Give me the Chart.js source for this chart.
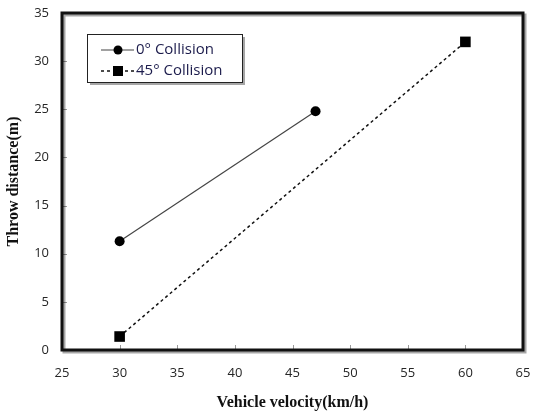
<!DOCTYPE html>
<html>
<head>
<meta charset="utf-8">
<script src="https://cdn.jsdelivr.net/npm/chart.js@4"></script>
<style>
  html, body { margin: 0; padding: 0; background: #fff; }
  #wrap { width: 534px; height: 415px; position: relative; }
</style>
</head>
<body>
<div id="wrap"><canvas id="chart" width="534" height="415"></canvas></div>
<script>
// values
const seriesNames = ['0° Collision', '45° Collision'];
const velocity0 = [30, 47];
const throw0 = [11.3, 24.8];
const velocity45 = [30, 60];
const throw45 = [1.4, 32];
const xTicks = [25, 30, 35, 40, 45, 50, 55, 60, 65];
const yTicks = [0, 5, 10, 15, 20, 25, 30, 35];

const toPoints = (xs, ys) => xs.map((x, i) => ({ x: x, y: ys[i] }));

// thick frame with a soft shadow, small inward ticks
const framePlugin = {
    id: 'frame',
    beforeDatasetsDraw(chart) {
        const { ctx, chartArea: a, scales } = chart;
        ctx.save();
        ctx.strokeStyle = '#999';
        ctx.lineWidth = 1;
        xTicks.forEach(v => {
            const px = Math.round(scales.x.getPixelForValue(v)) + 0.5;
            ctx.beginPath();
            ctx.moveTo(px, a.bottom);
            ctx.lineTo(px, a.bottom - 5);
            ctx.stroke();
        });
        yTicks.forEach(v => {
            const py = Math.round(scales.y.getPixelForValue(v)) + 0.5;
            ctx.beginPath();
            ctx.moveTo(a.left, py);
            ctx.lineTo(a.left + 5, py);
            ctx.stroke();
        });
        ctx.strokeStyle = 'rgba(0,0,0,0.35)';
        ctx.lineWidth = 3;
        ctx.strokeRect(a.left + 2, a.top + 2, a.right - a.left, a.bottom - a.top);
        ctx.strokeStyle = '#111';
        ctx.lineWidth = 3;
        ctx.strokeRect(a.left, a.top, a.right - a.left, a.bottom - a.top);
        ctx.restore();
    }
};

// legend box inside the plot, like the original
const legendPlugin = {
    id: 'boxLegend',
    afterDraw(chart) {
        const { ctx } = chart;
        const bx = 87, by = 34, bw = 155, bh = 48;
        ctx.save();
        ctx.fillStyle = 'rgba(0,0,0,0.35)';
        ctx.fillRect(bx + 3, by + 3, bw, bh);
        ctx.fillStyle = '#fff';
        ctx.fillRect(bx, by, bw, bh);
        ctx.strokeStyle = '#222';
        ctx.lineWidth = 1;
        ctx.strokeRect(bx + 0.5, by + 0.5, bw, bh);

        const rows = [50, 71];
        chart.data.datasets.forEach((ds, i) => {
            const y = rows[i];
            ctx.strokeStyle = ds.borderColor;
            ctx.lineWidth = ds.borderWidth;
            ctx.setLineDash(ds.borderDash || []);
            ctx.beginPath();
            ctx.moveTo(101, y);
            ctx.lineTo(134, y);
            ctx.stroke();
            ctx.setLineDash([]);
            ctx.fillStyle = '#000';
            if (ds.pointStyle === 'rect') {
                ctx.fillRect(113, y - 5, 10, 10);
            } else {
                ctx.beginPath();
                ctx.arc(118, y, 4.5, 0, Math.PI * 2);
                ctx.fill();
            }
            ctx.fillStyle = '#1c1c4c';
            ctx.font = '15px "Open Sans"';
            ctx.textBaseline = 'middle';
            ctx.fillText(ds.label, 136, y);
        });
        ctx.restore();
    }
};

new Chart(document.getElementById('chart'), {
    type: 'scatter',
    data: {
        datasets: [
            {
                label: seriesNames[0],
                data: toPoints(velocity0, throw0),
                showLine: true,
                borderColor: '#444',
                borderWidth: 1.2,
                backgroundColor: '#000',
                pointBackgroundColor: '#000',
                pointBorderWidth: 0,
                pointStyle: 'circle',
                pointRadius: 5
            },
            {
                label: seriesNames[1],
                data: toPoints(velocity45, throw45),
                showLine: true,
                borderColor: '#111',
                borderWidth: 1.5,
                borderDash: [3, 3],
                backgroundColor: '#000',
                pointBackgroundColor: '#000',
                pointBorderWidth: 0,
                pointStyle: 'rect',
                pointRadius: 7.5
            }
        ]
    },
    options: {
        responsive: false,
        animation: false,
        layout: { padding: { top: 13, right: 11, left: 0, bottom: 0 } },
        plugins: {
            legend: { display: false },
            tooltip: { enabled: false }
        },
        scales: {
            x: {
                type: 'linear',
                min: 25,
                max: 65,
                afterFit: (scale) => {
                    scale.height = 65;
                    scale.paddingLeft = 0;
                    scale.paddingRight = 0;
                },
                afterBuildTicks: (scale) => { scale.ticks = xTicks.map(v => ({ value: v })); },
                grid: { display: false, drawTicks: false },
                border: { display: false },
                ticks: {
                    padding: 15,
                    color: '#262626',
                    font: { family: '"Open Sans"', size: 13 }
                },
                title: {
                    display: true,
                    text: 'Vehicle velocity(km/h)',
                    color: '#111',
                    font: { family: '"Liberation Serif"', size: 16, weight: 'bold' },
                    padding: { top: 0, bottom: 3 }
                }
            },
            y: {
                type: 'linear',
                min: 0,
                max: 35,
                afterFit: (scale) => {
                    scale.width = 62;
                    scale.paddingTop = 0;
                    scale.paddingBottom = 0;
                },
                afterBuildTicks: (scale) => { scale.ticks = yTicks.map(v => ({ value: v })); },
                grid: { display: false, drawTicks: false },
                border: { display: false },
                ticks: {
                    padding: 13,
                    color: '#262626',
                    font: { family: '"Open Sans"', size: 13 }
                },
                title: {
                    display: true,
                    text: 'Throw distance(m)',
                    color: '#111',
                    font: { family: '"Liberation Serif"', size: 16, weight: 'bold' },
                    padding: { top: 4, bottom: 0 }
                }
            }
        }
    },
    plugins: [framePlugin, legendPlugin]
});
</script>
</body>
</html>
